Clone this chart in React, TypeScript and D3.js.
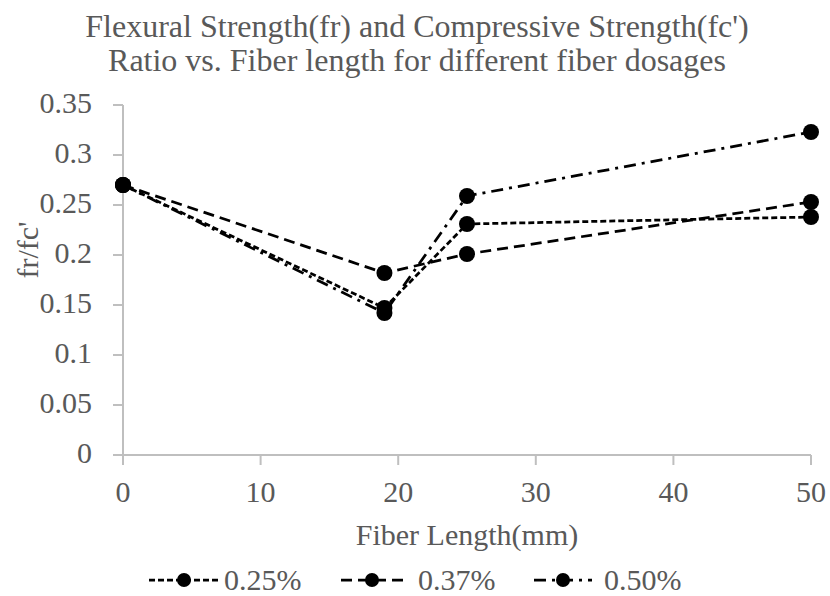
import React from "react";
import * as d3 from "d3";

const fiberLengths = [0, 19, 25, 50];
const seriesNames = ["0.25%", "0.37%", "0.50%"];
const values025 = [0.27, 0.147, 0.231, 0.238];
const values037 = [0.27, 0.182, 0.201, 0.253];
const values050 = [0.27, 0.142, 0.259, 0.323];
const xTicks = [0, 10, 20, 30, 40, 50];
const yTicks = [0, 0.05, 0.1, 0.15, 0.2, 0.25, 0.3, 0.35];
const titleLines = [
  "Flexural Strength(fr) and Compressive Strength(fc')",
  "Ratio vs. Fiber length for different fiber dosages",
];

const W = 830;
const H = 596;
const FONT = "'Liberation Serif', 'Times New Roman', serif";
const TEXT = "#595959";
const AXIS = "#bfbfbf";

const dashes = ["6,3", "11,6", "12,6,3,6"];

export default function App() {
  const x = d3.scaleLinear().domain([0, 50]).range([123, 811]);
  const y = d3.scaleLinear().domain([0, 0.35]).range([455, 105]);
  const series = [values025, values037, values050];
  const line = d3
    .line<number>()
    .x((_, i) => x(fiberLengths[i]))
    .y((d) => y(d));

  const legendItems = [
    { lx1: 149, lx2: 218, mx: 184, tx: 224 },
    { lx1: 341, lx2: 406, mx: 372, tx: 418 },
    { lx1: 534, lx2: 592, mx: 563, tx: 604 },
  ];
  const legendY = 580;

  return (
    <svg
      width={W}
      height={H}
      style={{ position: "absolute", left: 0, top: 0, background: "#fff" }}
      fontFamily={FONT}
    >
      <rect x={0} y={0} width={W} height={H} fill="#fff" />
      {titleLines.map((t, i) => (
        <text
          key={i}
          x={417}
          y={37 + i * 34}
          textAnchor="middle"
          fontSize={32}
          fill={TEXT}
        >
          {t}
        </text>
      ))}
      {/* y axis */}
      <line x1={x(0)} x2={x(0)} y1={y(0.35)} y2={y(0)} stroke={AXIS} strokeWidth={2} />
      {yTicks.map((t) => (
        <g key={t}>
          <line x1={x(0) - 10} x2={x(0)} y1={y(t)} y2={y(t)} stroke={AXIS} strokeWidth={2} />
          <text
            x={92}
            y={y(t) + 8}
            textAnchor="end"
            fontSize={30}
            fill={TEXT}
          >
            {d3.format("")(t)}
          </text>
        </g>
      ))}
      {/* x axis */}
      <line x1={x(0) - 10} x2={x(50)} y1={y(0)} y2={y(0)} stroke={AXIS} strokeWidth={2} />
      {xTicks.map((t) => (
        <g key={t}>
          <line x1={x(t)} x2={x(t)} y1={y(0)} y2={y(0) + 10} stroke={AXIS} strokeWidth={2} />
          <text x={x(t)} y={502} textAnchor="middle" fontSize={30} fill={TEXT}>
            {t}
          </text>
        </g>
      ))}
      <text x={467} y={545} textAnchor="middle" fontSize={30} fill={TEXT}>
        Fiber Length(mm)
      </text>
      <text
        transform={`translate(27,250) rotate(-90)`}
        dy="0.35em"
        textAnchor="middle"
        fontSize={30}
        fill={TEXT}
      >
        fr/fc'
      </text>
      {/* series */}
      {series.map((vals, si) => (
        <g key={si}>
          <path
            d={line(vals) || ""}
            fill="none"
            stroke="#000"
            strokeWidth={2.75}
            strokeDasharray={dashes[si]}
          />
          {vals.map((v, i) => (
            <circle key={i} cx={x(fiberLengths[i])} cy={y(v)} r={8} fill="#000" />
          ))}
        </g>
      ))}
      {/* legend */}
      {legendItems.map((it, i) => (
        <g key={i}>
          <line
            x1={it.lx1}
            x2={it.lx2}
            y1={legendY}
            y2={legendY}
            stroke="#000"
            strokeWidth={2.75}
            strokeDasharray={dashes[i]}
          />
          <circle cx={it.mx} cy={legendY} r={7} fill="#000" />
          <text x={it.tx} y={legendY + 10} fontSize={30} fill={TEXT}>
            {seriesNames[i]}
          </text>
        </g>
      ))}
    </svg>
  );
}
